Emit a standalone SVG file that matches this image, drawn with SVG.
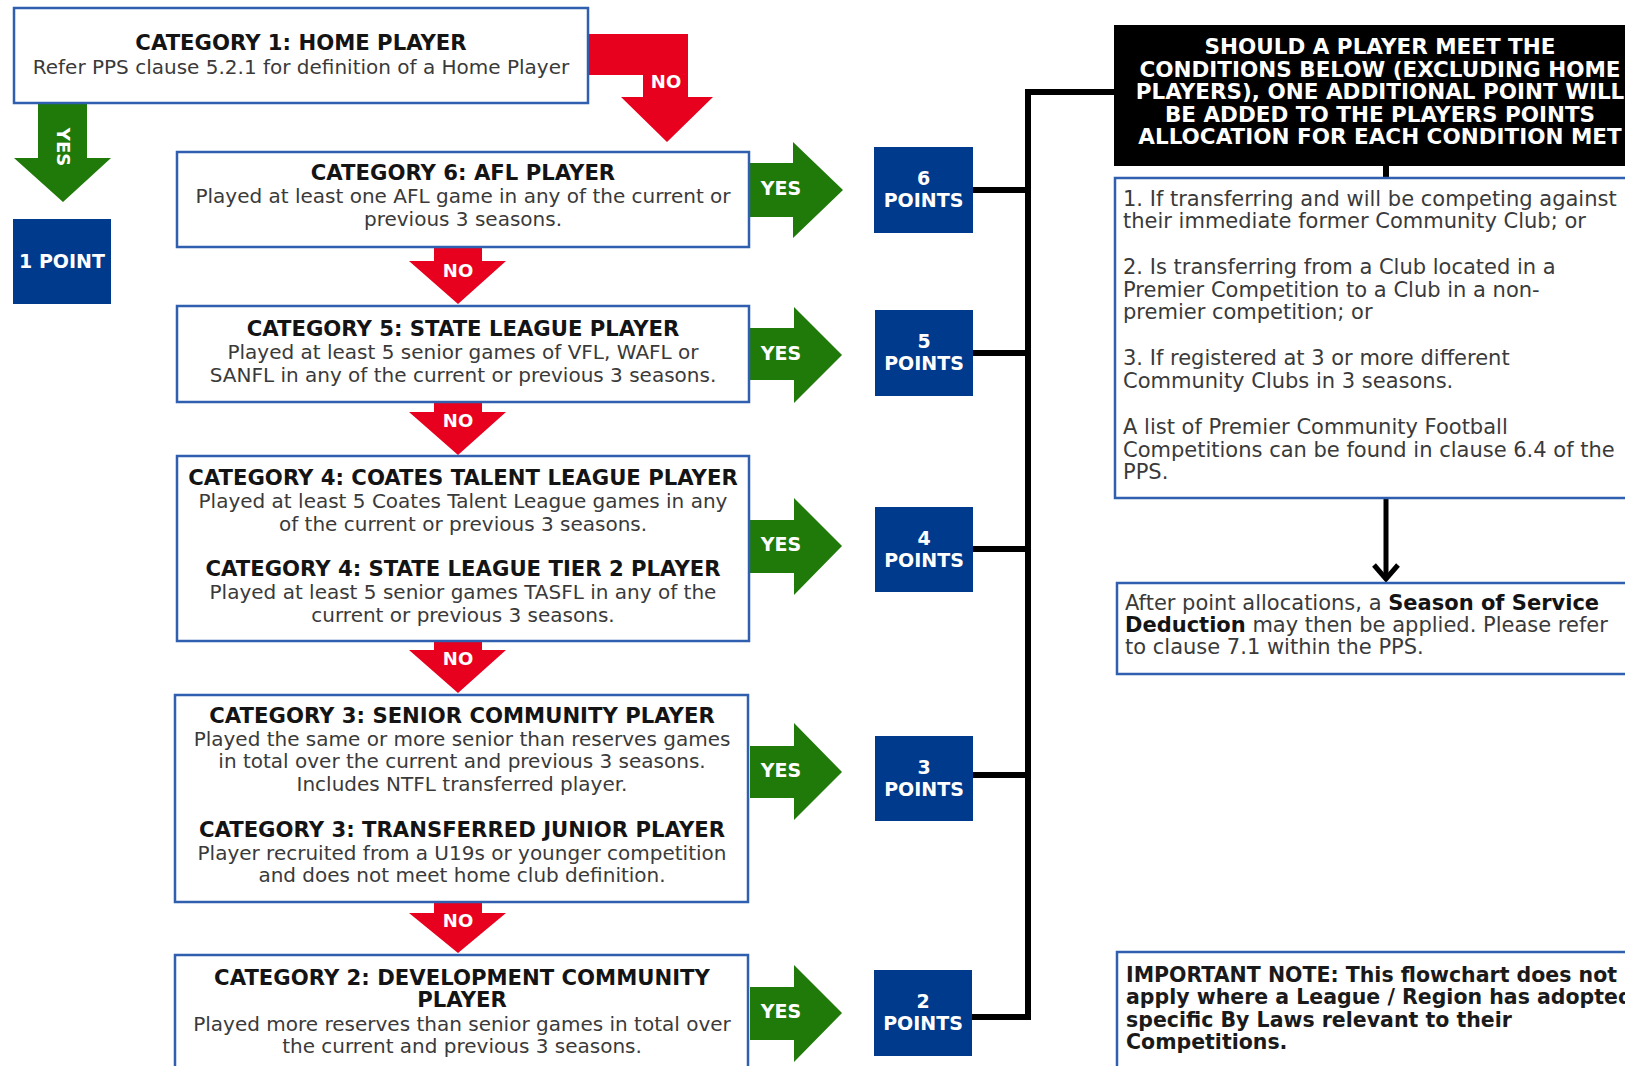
<svg xmlns="http://www.w3.org/2000/svg" width="1625" height="1066" viewBox="0 0 1625 1066">
<style>
text{font-family:"DejaVu Sans","Liberation Sans",sans-serif}
.box{fill:#fff;stroke:#2f5fae;stroke-width:2.5}
.pts{fill:#003a8c}
.green{fill:#1f7a0a}
.red{fill:#e8001f}
.t{font-size:21.2px;font-weight:bold;fill:#141414;text-anchor:middle}
.b{font-size:20px;fill:#3a3a3a;text-anchor:middle}
.bl{font-size:21px;fill:#3a3a3a}
.lbl{font-size:18px;font-weight:bold;fill:#fff;text-anchor:middle}
.pt{font-size:19px;font-weight:bold;fill:#fff;text-anchor:middle}
.hd{font-size:21.5px;font-weight:bold;fill:#fff;text-anchor:middle}
.conn{fill:none;stroke:#000;stroke-width:6}
.imp{font-size:20.5px;font-weight:bold;fill:#1a1a1a}
</style>

<g id="connectors">
<path class="conn" d="M1114,92 H1028 V1017"/>
<line class="conn" x1="973" y1="190" x2="1031" y2="190"/>
<line class="conn" x1="973" y1="353" x2="1031" y2="353"/>
<line class="conn" x1="973" y1="549" x2="1031" y2="549"/>
<line class="conn" x1="973" y1="775" x2="1031" y2="775"/>
<path class="conn" d="M971,1017 H1031"/>
<line class="conn" x1="1386" y1="165" x2="1386" y2="179"/>
<line stroke="#000" stroke-width="5" x1="1386" y1="498" x2="1386" y2="577"/>
<path d="M1374,565 L1386,579 L1398,565" fill="none" stroke="#000" stroke-width="5"/>
<polygon class="red" points="588,34 688,34 688,97 713,97 667,142 621,97 643,97 643,75 588,75"/>
<polygon class="green" points="38,103 87,103 87,158 111,158 63,202 14,158 38,158"/>
<polygon class="red" points="434,247 482,247 482,261 506,261 458,304 409,261 434,261"/>
<polygon class="red" points="434,402 482,402 482,412 506,412 458,455 409,412 434,412"/>
<polygon class="red" points="434,641 482,641 482,650 506,650 458,693 409,650 434,650"/>
<polygon class="red" points="434,902 482,902 482,913 506,913 458,953 409,913 434,913"/>
<polygon class="green" points="750,163 793,163 793,142 843,190 793,238 793,217 750,217"/>
<polygon class="green" points="750,328 794,328 794,307 842,355 794,403 794,380 750,380"/>
<polygon class="green" points="750,520 794,520 794,498 842,546 794,595 794,573 750,573"/>
<polygon class="green" points="750,746 794,746 794,723 842,772 794,820 794,798 750,798"/>
<polygon class="green" points="750,987 794,987 794,965 842,1013 794,1062 794,1040 750,1040"/>
<text class="lbl" x="666" y="88">NO</text>
<text class="lbl" transform="translate(57,147) rotate(90)">YES</text>
<text class="lbl" x="458" y="277">NO</text>
<text class="lbl" x="458" y="427">NO</text>
<text class="lbl" x="458" y="665">NO</text>
<text class="lbl" x="458" y="927">NO</text>
<text class="pt" x="781" y="195">YES</text>
<text class="pt" x="781" y="360">YES</text>
<text class="pt" x="781" y="551">YES</text>
<text class="pt" x="781" y="777">YES</text>
<text class="pt" x="781" y="1018">YES</text>
</g>

<g id="cat1">
<rect class="box" x="14" y="8" width="574" height="95"/>
<text class="t" x="301" y="50">CATEGORY 1: HOME PLAYER</text>
<text class="b" x="301" y="74" font-size="20.5">Refer PPS clause 5.2.1 for definition of a Home Player</text>
</g>

<g id="point1">
<rect class="pts" x="13" y="219" width="98" height="85"/>
<text class="pt" x="62" y="268" font-size="18">1 POINT</text>
</g>

<g id="cat6">
<rect class="box" x="177" y="152" width="572" height="95"/>
<text class="t" x="463" y="180">CATEGORY 6: AFL PLAYER</text>
<text class="b" x="463" y="203">Played at least one AFL game in any of the current or</text>
<text class="b" x="463" y="226">previous 3 seasons.</text>
</g>

<g id="cat5">
<rect class="box" x="177" y="306" width="572" height="96"/>
<text class="t" x="463" y="336">CATEGORY 5: STATE LEAGUE PLAYER</text>
<text class="b" x="463" y="359">Played at least 5 senior games of VFL, WAFL or</text>
<text class="b" x="463" y="382">SANFL in any of the current or previous 3 seasons.</text>
</g>

<g id="cat4">
<rect class="box" x="177" y="456" width="572" height="185"/>
<text class="t" x="463" y="485">CATEGORY 4: COATES TALENT LEAGUE PLAYER</text>
<text class="b" x="463" y="508">Played at least 5 Coates Talent League games in any</text>
<text class="b" x="463" y="531">of the current or previous 3 seasons.</text>
<text class="t" x="463" y="576">CATEGORY 4: STATE LEAGUE TIER 2 PLAYER</text>
<text class="b" x="463" y="599">Played at least 5 senior games TASFL in any of the</text>
<text class="b" x="463" y="622">current or previous 3 seasons.</text>
</g>

<g id="cat3">
<rect class="box" x="175" y="695" width="573" height="207"/>
<text class="t" x="462" y="723">CATEGORY 3: SENIOR COMMUNITY PLAYER</text>
<text class="b" x="462" y="746">Played the same or more senior than reserves games</text>
<text class="b" x="462" y="768">in total over the current and previous 3 seasons.</text>
<text class="b" x="462" y="791">Includes NTFL transferred player.</text>
<text class="t" x="462" y="837">CATEGORY 3: TRANSFERRED JUNIOR PLAYER</text>
<text class="b" x="462" y="860">Player recruited from a U19s or younger competition</text>
<text class="b" x="462" y="882">and does not meet home club definition.</text>
</g>

<g id="cat2">
<rect class="box" x="175" y="955" width="573" height="130"/>
<text class="t" x="462" y="985">CATEGORY 2: DEVELOPMENT COMMUNITY</text>
<text class="t" x="462" y="1007">PLAYER</text>
<text class="b" x="462" y="1031">Played more reserves than senior games in total over</text>
<text class="b" x="462" y="1053">the current and previous 3 seasons.</text>
</g>

<g id="points6">
<rect class="pts" x="874" y="147" width="99" height="86"/>
<text class="pt" x="923.5" y="185">6</text>
<text class="pt" x="923.5" y="207">POINTS</text>
</g>
<g id="points5">
<rect class="pts" x="875" y="310" width="98" height="86"/>
<text class="pt" x="924" y="348">5</text>
<text class="pt" x="924" y="370">POINTS</text>
</g>
<g id="points4">
<rect class="pts" x="875" y="507" width="98" height="85"/>
<text class="pt" x="924" y="545">4</text>
<text class="pt" x="924" y="567">POINTS</text>
</g>
<g id="points3">
<rect class="pts" x="875" y="736" width="98" height="85"/>
<text class="pt" x="924" y="774">3</text>
<text class="pt" x="924" y="796">POINTS</text>
</g>
<g id="points2">
<rect class="pts" x="874" y="970" width="98" height="86"/>
<text class="pt" x="923" y="1008">2</text>
<text class="pt" x="923" y="1030">POINTS</text>
</g>

<g id="header">
<rect x="1114" y="25" width="540" height="141" fill="#000"/>
<text class="hd" x="1380" y="54">SHOULD A PLAYER MEET THE</text>
<text class="hd" x="1380" y="77">CONDITIONS BELOW (EXCLUDING HOME</text>
<text class="hd" x="1380" y="99">PLAYERS), ONE ADDITIONAL POINT WILL</text>
<text class="hd" x="1380" y="122">BE ADDED TO THE PLAYERS POINTS</text>
<text class="hd" x="1380" y="144">ALLOCATION FOR EACH CONDITION MET</text>
</g>

<g id="conditions">
<rect class="box" x="1115" y="178" width="540" height="320"/>
<text class="bl" x="1123" y="206">1. If transferring and will be competing against</text>
<text class="bl" x="1123" y="228">their immediate former Community Club; or</text>
<text class="bl" x="1123" y="274">2. Is transferring from a Club located in a</text>
<text class="bl" x="1123" y="297">Premier Competition to a Club in a non-</text>
<text class="bl" x="1123" y="319">premier competition; or</text>
<text class="bl" x="1123" y="365">3. If registered at 3 or more different</text>
<text class="bl" x="1123" y="388">Community Clubs in 3 seasons.</text>
<text class="bl" x="1123" y="434">A list of Premier Community Football</text>
<text class="bl" x="1123" y="457">Competitions can be found in clause 6.4 of the</text>
<text class="bl" x="1123" y="479">PPS.</text>
</g>

<g id="season">
<rect class="box" x="1117" y="583" width="540" height="91"/>
<text class="bl" x="1125" y="610">After point allocations, a <tspan font-weight="bold" fill="#141414">Season of Service</tspan></text>
<text class="bl" x="1125" y="632"><tspan font-weight="bold" fill="#141414">Deduction</tspan> may then be applied. Please refer</text>
<text class="bl" x="1125" y="654">to clause 7.1 within the PPS.</text>
</g>

<g id="note">
<rect class="box" x="1117" y="952" width="540" height="130"/>
<text class="imp" x="1126" y="982">IMPORTANT NOTE: This flowchart does not</text>
<text class="imp" x="1126" y="1004">apply where a League / Region has adopted</text>
<text class="imp" x="1126" y="1027">specific By Laws relevant to their</text>
<text class="imp" x="1126" y="1049">Competitions.</text>
</g>
</svg>
